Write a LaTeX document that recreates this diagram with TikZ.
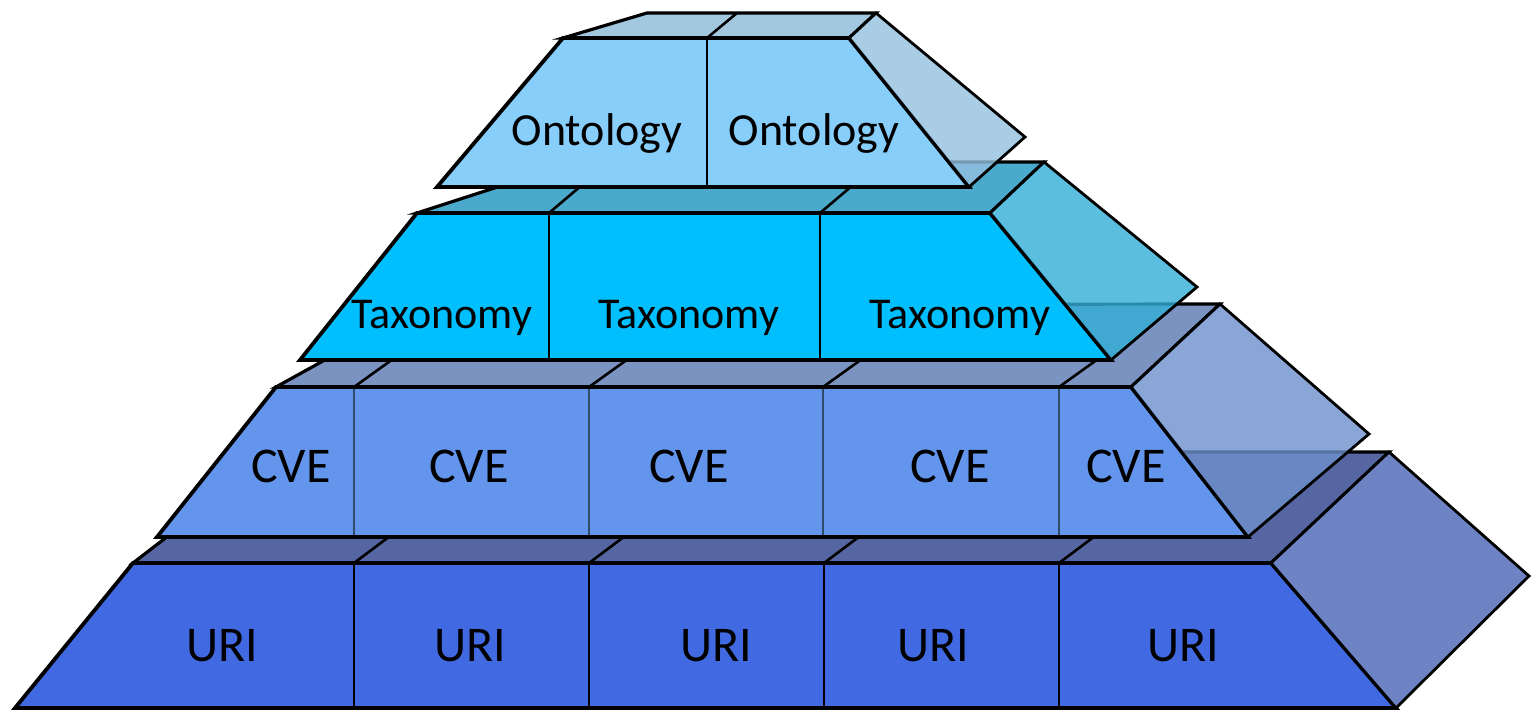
\documentclass[tikz,border=0pt]{standalone}
\usepackage{fontspec}
\setmainfont{Carlito}

% face colours, one set per layer
\definecolor{ontFront}{HTML}{87CEFA}
\definecolor{ontTop}{HTML}{A2C8DF}
\definecolor{ontSide}{RGB}{149,193,224}
\definecolor{taxFront}{HTML}{00BFFF}
\definecolor{taxTop}{HTML}{4BA9CB}
\definecolor{taxSide}{RGB}{50,174,214}
\definecolor{cveFront}{HTML}{6495ED}
\definecolor{cveTop}{HTML}{7B93C1}
\definecolor{cveSide}{RGB}{109,144,204}
\definecolor{cveLine}{HTML}{2F4C6B}
\definecolor{uriFront}{HTML}{4169E1}
\definecolor{uriTop}{HTML}{5566A2}
\definecolor{uriSide}{HTML}{6E83C4}

\begin{document}
\begin{tikzpicture}[x=1pt,y=-1pt,
  face/.style={draw=black, line width=3.8pt, line join=miter},
  top face/.style={face, line width=3.2pt},
  side face/.style={face, line width=2.8pt, fill opacity=0.8, draw opacity=1},
  divider/.style={draw=black, line width=2.6pt},
  thin divider/.style={draw=cveLine, line width=2pt},
  lbl/.style={anchor=base, inner sep=0pt, text=black}
]
\useasboundingbox (0,0) rectangle (1532,712);

% ---------- bottom layer: URI ----------
\filldraw[top face, fill=uriTop] (133,563) -- (277,452) -- (1389,452) -- (1271,563) -- cycle;
\foreach \x in {354,589,824,1059} \draw[divider] (\x,563) -- ++(36,-27);
\filldraw[face, fill=uriFront] (133,563) -- (1271,563) -- (1396,708) -- (15,708) -- cycle;
\foreach \x in {354,589,824,1059} \draw[divider] (\x,564) -- (\x,707);
\filldraw[face, line width=2.8pt, fill=uriSide] (1271,563) -- (1389,452) -- (1529,576) -- (1396,708) -- cycle;
\begin{scope}[font=\fontsize{50}{56}\selectfont]
  \node[lbl] (uri1) at (222,661) {URI};
  \node[lbl] (uri2) at (470,661) {URI};
  \node[lbl] (uri3) at (716,661) {URI};
  \node[lbl] (uri4) at (933,661) {URI};
  \node[lbl] (uri5) at (1183,661) {URI};
\end{scope}

% ---------- second layer: CVE ----------
\filldraw[top face, fill=cveTop] (276,387) -- (424,305) -- (1220,304) -- (1131,387) -- cycle;
\foreach \x in {354,589,823,1059} \draw[divider] (\x,387) -- ++(39,-28);
\filldraw[face, fill=cveFront] (276,387) -- (1131,387) -- (1248,537) -- (157,537) -- cycle;
\foreach \x in {354,589,823,1059} \draw[thin divider] (\x,389) -- (\x,535);
\filldraw[side face, fill=cveSide] (1131,387) -- (1220,304) -- (1369,434) -- (1248,537) -- cycle;
\begin{scope}[font=\fontsize{50}{56}\selectfont]
  \node[lbl] (cve1) at (291,482) {CVE};
  \node[lbl] (cve2) at (469,482) {CVE};
  \node[lbl] (cve3) at (689,482) {CVE};
  \node[lbl] (cve4) at (950,482) {CVE};
  \node[lbl] (cve5) at (1126,482) {CVE};
\end{scope}

% ---------- third layer: Taxonomy ----------
\filldraw[top face, fill=taxTop] (417,213) -- (575,162) -- (1044,162) -- (990,213) -- cycle;
\foreach \x in {549,820} \draw[divider] (\x,213) -- ++(33,-28);
\filldraw[face, fill=taxFront] (417,213) -- (990,213) -- (1111,360) -- (300,360) -- cycle;
\foreach \x in {549,820} \draw[divider] (\x,214) -- (\x,359);
\filldraw[side face, fill=taxSide] (990,213) -- (1044,162) -- (1197,287) -- (1111,360) -- cycle;
\begin{scope}[font=\fontsize{44}{50}\selectfont]
  \node[lbl] (tax1) at (442,328) {Taxonomy};
  \node[lbl] (tax2) at (689,328) {Taxonomy};
  \node[lbl] (tax3) at (960,328) {Taxonomy};
\end{scope}

% ---------- top layer: Ontology ----------
\filldraw[top face, fill=ontTop] (563,38) -- (647,13) -- (876,13) -- (849,38) -- cycle;
\draw[divider] (707,38) -- (737,13);
\filldraw[face, fill=ontFront] (563,38) -- (849,38) -- (969,187) -- (437,187) -- cycle;
\draw[divider] (707,39) -- (707,186);
\filldraw[side face, fill=ontSide] (849,38) -- (876,13) -- (1025,137) -- (969,187) -- cycle;
\begin{scope}[font=\fontsize{46}{52}\selectfont]
  \node[lbl] (ont1) at (597,145) {Ontology};
  \node[lbl] (ont2) at (814,145) {Ontology};
\end{scope}
\end{tikzpicture}
\end{document}
